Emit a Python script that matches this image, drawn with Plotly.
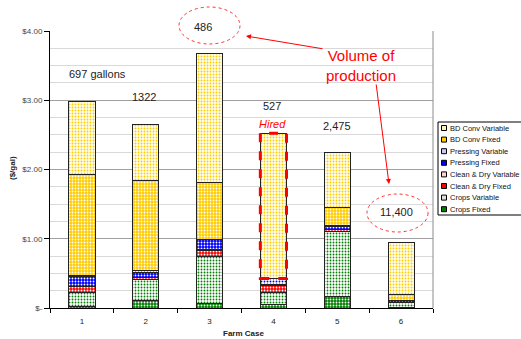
import plotly.graph_objects as go

# Farm cases and per-gallon cost components ($/gal)
cases = [1, 2, 3, 4, 5, 6]
crops_fixed = [0.02, 0.11, 0.07, 0.045, 0.17, 0.01]
crops_variable = [0.21, 0.30, 0.68, 0.185, 0.94, 0.065]
clean_dry_fixed = [0.08, 0.03, 0.085, 0.10, 0.025, 0.005]
clean_dry_variable = [0.005, 0.005, 0.005, 0.005, 0.005, 0.005]
pressing_fixed = [0.145, 0.065, 0.15, 0.0, 0.04, 0.02]
pressing_variable = [0.005, 0.035, 0.005, 0.09, 0.005, 0.005]
bd_conv_fixed = [1.47, 1.29, 0.82, 0.0, 0.27, 0.09]
bd_conv_variable = [1.05, 0.81, 1.86, 2.10, 0.79, 0.74]

# Annual production volume for each case
volume_labels = ["697 gallons", "1322", "486", "527", "2,475", "11,400"]

y_tickvals = [0, 1, 2, 3, 4]
y_ticktext = ["$-", "$1.00", "$2.00", "$3.00", "$4.00"]

FONT = "Liberation Sans, Arial, sans-serif"
BAR_WIDTH = 0.41
HIRED_CASE = 4
X_RANGE = [0.5, 6.5]
Y_RANGE = [0, 4]

# name, values, background colour, dot colour, legend swatch fill
series = [
    ("Crops Fixed", crops_fixed, "#008000", "#ffffff", "#008000"),
    ("Crops Variable", crops_variable, "#ffffff", "#008000", "#cfe8cf"),
    ("Clean & Dry Fixed", clean_dry_fixed, "#ff0000", "#ffffff", "#ff0000"),
    ("Clean & Dry Variable", clean_dry_variable, "#ffffff", "#ff0000", "#ffd0d0"),
    ("Pressing Fixed", pressing_fixed, "#0000ff", "#ffffff", "#0000ff"),
    ("Pressing Variable", pressing_variable, "#ffffff", "#0000ff", "#c8c8ff"),
    ("BD Conv Fixed", bd_conv_fixed, "#ffcc00", "#ffffff", "#ffcc00"),
    ("BD Conv Variable", bd_conv_variable, "#fffef0", "#ffcc00", "#fff2b0"),
]

fig = go.Figure()
for name, vals, bg, fg, _ in series:
    fig.add_trace(go.Bar(
        x=cases, y=vals, name=name, width=BAR_WIDTH,
        marker=dict(
            color=bg,
            line=dict(color="#222222", width=1),
            pattern=dict(shape=".", bgcolor=bg, fgcolor=fg, size=3,
                         solidity=0.3, fillmode="replace"),
        ),
        showlegend=False,
    ))

# plot-area geometry in pixels (used for paper-coordinate overlays)
W, H = 521, 339
ML, MR, MT, MB = 50, 88, 31, 31
PW, PH = W - ML - MR, H - MT - MB


def px(xp):
    return (xp - ML) / PW


def py(yp):
    return (H - MB - yp) / PH


def dx(v):
    return (v - X_RANGE[0]) / (X_RANGE[1] - X_RANGE[0])


def dy(v):
    return (v - Y_RANGE[0]) / (Y_RANGE[1] - Y_RANGE[0])


shapes = []
annotations = []


def note(x, y, text, size=11, color="#222222", **kw):
    d = dict(x=x, y=y, xref="paper", yref="paper", text=text, showarrow=False,
             xanchor="center", yanchor="middle",
             font=dict(family=FONT, size=size, color=color))
    d.update(kw)
    annotations.append(d)


# right border of the plot area
shapes.append(dict(type="line", xref="paper", yref="paper", x0=1, x1=1, y0=0, y1=1,
                   line=dict(color="#8c8c8c", width=1)))

# dashed outline round the hired BD conversion segment of case 4
i4 = cases.index(HIRED_CASE)
below = [crops_fixed, crops_variable, clean_dry_fixed, clean_dry_variable,
         pressing_fixed, pressing_variable]
hired_base = sum(s[i4] for s in below)
hired_top = hired_base + bd_conv_fixed[i4] + bd_conv_variable[i4]
shapes.append(dict(type="rect", xref="x", yref="y",
                   x0=HIRED_CASE - BAR_WIDTH / 2, x1=HIRED_CASE + BAR_WIDTH / 2,
                   y0=hired_base, y1=hired_top,
                   line=dict(color="#ff0000", width=3, dash="dash")))

# volume labels above the bars (axis positions mapped to paper so none is hidden)
label_pos = [(1.25, 3.38), (1.98, 3.05), (2.89, 4.06), (3.98, 2.92), (5.0, 2.63), (5.93, 1.38)]
for text, (lx, ly) in zip(volume_labels, label_pos):
    note(dx(lx), dy(ly), text)

note(dx(3.98), dy(2.66), "<i>Hired</i>", color="#ff0000")

# dotted ellipses round the smallest and largest volumes
for x0, x1, y0, y1 in [(179, 240, 44, 7), (367, 428, 232, 194)]:
    shapes.append(dict(type="circle", xref="paper", yref="paper",
                       x0=px(x0), x1=px(x1), y0=py(y0), y1=py(y1),
                       line=dict(color="#ff3333", width=1, dash="dot")))

note(px(361), py(65), "Volume of<br>production", size=15, color="#ff0000")
annotations.append(dict(x=px(246), y=py(36), xref="paper", yref="paper", text="",
                        showarrow=True, ax=78, ay=13, arrowhead=2, arrowsize=1,
                        arrowwidth=1, arrowcolor="#ff0000"))
annotations.append(dict(x=px(389), y=py(184), xref="paper", yref="paper", text="",
                        showarrow=True, ax=-13, ay=-101, arrowhead=2, arrowsize=1,
                        arrowwidth=1, arrowcolor="#ff0000"))

# axis titles
note(px(243), py(333), "<b>Farm Case</b>", size=8)
note(px(12), py(168), "<b>($/gal)</b>", size=8, textangle=-90)

# legend box
lx0, lx1, ly0, ly1 = 438, 524, 122, 215
shapes.append(dict(type="rect", xref="paper", yref="paper",
                   x0=px(lx0), x1=px(lx1), y0=py(ly1), y1=py(ly0),
                   line=dict(color="#000000", width=1), fillcolor="#ffffff"))
for k, (name, _, bg, fg, swatch) in enumerate(reversed(series)):
    cy = 128 + k * 11.6
    shapes.append(dict(type="rect", xref="paper", yref="paper",
                       x0=px(441.5), x1=px(446.5), y0=py(cy + 2.5), y1=py(cy - 2.5),
                       line=dict(color="#000000", width=1), fillcolor=swatch))
    note(px(448), py(cy), name, size=7.5, color="#111111", xanchor="left")

fig.update_layout(
    width=W, height=H,
    margin=dict(l=ML, r=MR, t=MT, b=MB),
    barmode="stack",
    paper_bgcolor="#ffffff", plot_bgcolor="#ffffff",
    font=dict(family=FONT, size=8, color="#222222"),
    shapes=shapes, annotations=annotations,
    xaxis=dict(
        range=X_RANGE, tickmode="array", tickvals=cases,
        ticktext=[str(c) for c in cases],
        ticks="outside", ticklen=5, tickcolor="rgba(0,0,0,0)",
        showline=True, linecolor="#000000", linewidth=1,
        showgrid=False, zeroline=False,
        minor=dict(tickvals=[c + 0.5 for c in [0] + cases], ticks="outside",
                   ticklen=4, tickcolor="#000000", showgrid=False),
        tickfont=dict(family=FONT, size=8, color="#222222"),
    ),
    yaxis=dict(
        range=Y_RANGE, tickmode="array", tickvals=y_tickvals, ticktext=y_ticktext,
        ticks="outside", ticklen=5, tickcolor="#000000",
        showline=True, linecolor="#000000", linewidth=1,
        showgrid=True, gridcolor="#a0a0a0", gridwidth=1, zeroline=False,
        minor=dict(dtick=0.25, showgrid=True, gridcolor="#d9d9d9", gridwidth=1),
        tickfont=dict(family=FONT, size=8, color="#444444"),
    ),
)

fig.write_html("out.html")
